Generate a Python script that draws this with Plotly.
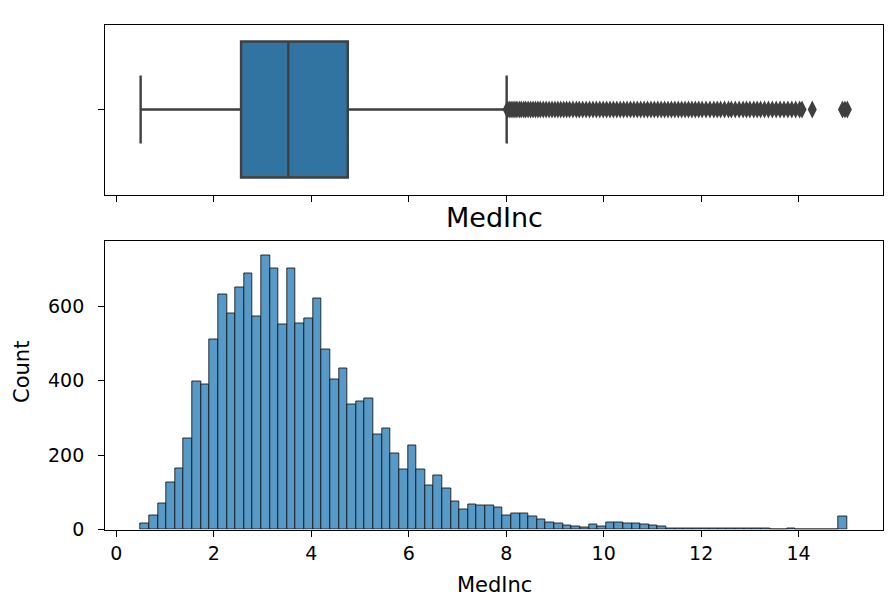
import plotly.graph_objects as go

# ---------------- data ----------------
bin_start = 0.4999
bin_end = 15.0001
n_bins = 82
counts = [15, 37, 70, 126, 163, 244, 398, 391, 510, 631, 581, 650, 687, 572, 738, 702, 550,
          703, 553, 566, 621, 483, 402, 434, 336, 345, 352, 255, 271, 205, 162, 225, 160,
          119, 144, 110, 75, 53, 67, 65, 64, 60, 38, 44, 42, 34, 27, 20, 15, 11, 7,
          5, 13, 8, 20, 20, 15, 15, 13, 10, 7, 4, 3, 4, 2, 4, 4, 3, 4, 3, 4, 4, 2, 1, 1, 2,
          1, 1, 0, 0, 0, 34]

box_q1 = 2.56
box_median = 3.53
box_q3 = 4.75
box_low = 0.4999
box_high = 8.01

outliers = [8.02, 8.06, 8.1, 8.14, 8.18, 8.22, 8.27, 8.31, 8.36, 8.4, 8.45, 8.5, 8.55, 8.6,
            8.65, 8.7, 8.76, 8.82, 8.88, 8.94, 9.0, 9.06, 9.12, 9.18, 9.24, 9.3, 9.37, 9.44,
            9.5, 9.57, 9.64, 9.71, 9.78, 9.85, 9.92, 9.99, 10.06, 10.13, 10.2, 10.27, 10.34,
            10.41, 10.48, 10.55, 10.62, 10.69, 10.76, 10.83, 10.9, 10.97, 11.04, 11.11,
            11.18, 11.25, 11.32, 11.39, 11.46, 11.53, 11.6, 11.67, 11.74, 11.81, 11.88,
            11.95, 12.02, 12.1, 12.18, 12.26, 12.33, 12.4, 12.48, 12.56, 12.62, 12.7,
            12.78, 12.86, 12.93, 13.0, 13.08, 13.15, 13.22, 13.3, 13.38, 13.46, 13.54,
            13.62, 13.7, 13.78, 13.86, 13.94, 14.02, 14.07, 14.28, 14.9, 14.95, 15.0]

x_ticks = [0, 2, 4, 6, 8, 10, 12, 14]
y_ticks = [0, 200, 400, 600]

# ---------------- derived ----------------
width = (bin_end - bin_start) / n_bins
centers = [bin_start + (i + 0.5) * width for i in range(n_bins)]

W, H = 889, 611
xl, xr = 105.3 / W, 882.7 / W
top_dom = [1 - 194.5 / H, 1 - 24.5 / H]
bot_dom = [1 - 529.5 / H, 1 - 240.5 / H]
x_range = [-0.225, 15.725]

FONT = "DejaVu Sans"
LINE = "#3f3f3f"

fig = go.Figure()

fig.add_trace(go.Box(
    orientation="h", y=[0], q1=[box_q1], median=[box_median], q3=[box_q3],
    lowerfence=[box_low], upperfence=[box_high], boxpoints=False,
    width=0.8, whiskerwidth=0.5, fillcolor="#3274a1",
    line=dict(color=LINE, width=2.4), xaxis="x2", yaxis="y2", showlegend=False,
    hoverinfo="skip"))

fig.add_trace(go.Scatter(
    x=outliers, y=[0] * len(outliers), mode="markers", xaxis="x2", yaxis="y2",
    marker=dict(symbol="diamond-tall", size=13, color=LINE, line=dict(width=0)),
    showlegend=False, hoverinfo="skip"))

fig.add_trace(go.Bar(
    x=centers, y=counts, width=width,
    marker=dict(color="#5799c7", line=dict(color="rgba(20,20,20,0.85)", width=1)),
    showlegend=False))

axis_common = dict(showline=True, linecolor="black", linewidth=1.4, mirror=True,
                   ticks="outside", ticklen=6, tickwidth=1.4, tickcolor="black",
                   showgrid=False, zeroline=False, automargin=False,
                   tickfont=dict(family=FONT, size=19, color="black"))

fig.update_layout(
    width=W, height=H, margin=dict(l=0, r=0, t=0, b=0),
    paper_bgcolor="white", plot_bgcolor="white", bargap=0,
    xaxis=dict(domain=[xl, xr], range=x_range, anchor="y",
               tickvals=x_ticks, ticktext=[str(v) for v in x_ticks],
               **axis_common),
    yaxis=dict(domain=bot_dom, range=[0, 777], anchor="x",
               tickvals=y_ticks, ticktext=[str(v) for v in y_ticks],
               ticklabelstandoff=10,
               **axis_common),
    xaxis2=dict(domain=[xl, xr], range=x_range, anchor="y2", matches="x",
                tickvals=x_ticks, showticklabels=False, **axis_common),
    yaxis2=dict(domain=top_dom, range=[0.5, -0.5], anchor="x2",
                tickvals=[0], showticklabels=False, **axis_common),
    annotations=[
        dict(text="MedInc", x=(xl + xr) / 2, y=1 - 217 / H, xref="paper",
             yref="paper", showarrow=False, xanchor="center", yanchor="middle",
             font=dict(family=FONT, size=27, color="black")),
        dict(text="MedInc", x=(xl + xr) / 2, y=1 - 585 / H, xref="paper",
             yref="paper", showarrow=False, xanchor="center", yanchor="middle",
             font=dict(family=FONT, size=21, color="black")),
        dict(text="Count", x=22 / W, y=1 - 372 / H, xref="paper", textangle=-90,
             yref="paper", showarrow=False, xanchor="center", yanchor="middle",
             font=dict(family=FONT, size=21, color="black")),
    ],
)

fig.write_html("out.html")
